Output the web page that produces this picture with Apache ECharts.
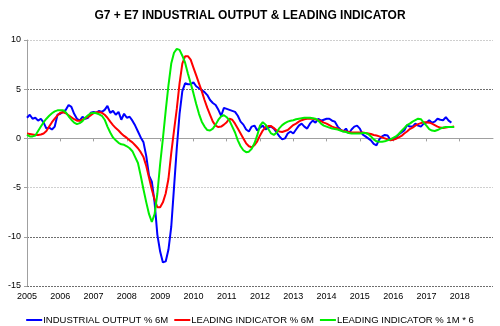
<!DOCTYPE html>
<html><head><meta charset="utf-8">
<script src="https://cdn.jsdelivr.net/npm/echarts@6/dist/echarts.min.js"></script>
<style>html,body{margin:0;padding:0;background:#fff}#c{width:500px;height:326px}</style>
</head><body><div id="c"></div>
<script>
// monthly categories 2005-01 .. 2019-01
const months = [];
for (let y = 2005; y <= 2019; y++) {
  for (let m = 1; m <= 12; m++) {
    if (y === 2019 && m > 1) break;
    months.push(y + '-' + (m < 10 ? '0' + m : m));
  }
}
const yearLabels = ['2005','2006','2007','2008','2009','2010','2011','2012','2013','2014','2015','2016','2017','2018'];
const yTicks = [-15, -10, -5, 0, 5, 10];

const industrialOutput6m = [
  2.1, 2.4, 2.0, 2.1, 1.8, 2.0, 1.6, 1.0, 1.1, 0.9, 1.2, 2.4,
  2.5, 2.7, 2.9, 3.4, 3.2, 2.5, 2.0, 1.8, 2.2, 2.0, 2.1, 2.6,
  2.7, 2.6, 2.8, 2.7, 2.9, 3.3, 2.6, 2.8, 2.4, 2.7, 1.9, 2.5,
  2.1, 2.2, 1.8, 1.3, 0.7, 0.1, -0.4, -1.8, -3.8, -4.4, -6.5, -9.8,
  -11.5, -12.6, -12.5, -11.3, -9.0, -5.0, -1.0, 2.5, 4.8, 5.6, 5.5, 5.5,
  5.7, 5.3, 5.1, 4.9, 4.7, 4.4, 3.9, 3.6, 3.4, 2.9, 2.3, 3.1,
  3.0, 2.9, 2.8, 2.7, 2.3, 1.7, 1.4, 0.9, 0.7, 1.2, 1.3, 0.8,
  1.1, 1.3, 0.9, 1.1, 1.2, 1.0, 0.6, 0.2, -0.1, 0.0, 0.5, 0.7,
  0.5, 0.9, 1.3, 1.5, 1.2, 1.0, 1.5, 1.8, 1.6, 2.0, 1.8, 1.9,
  2.0, 2.0, 1.8, 1.7, 1.2, 0.9, 0.7, 1.0, 0.5, 0.9, 1.2, 1.3,
  1.0, 0.4, 0.2, 0.0, -0.2, -0.55, -0.7, -0.1, 0.2, 0.35, 0.3, -0.15,
  -0.1, 0.1, 0.4, 0.6, 0.8, 1.35, 1.2, 1.2, 1.5, 1.3, 1.2, 1.5,
  1.6, 1.85, 1.6, 1.7, 2.0, 1.9, 1.85, 2.15, 1.8, 1.6
];
const leading6m = [
  0.5, 0.45, 0.4, 0.35, 0.35, 0.4, 0.5, 0.75, 1.2, 1.65, 2.0, 2.35,
  2.6, 2.65, 2.55, 2.35, 2.15, 1.95, 1.8, 1.8, 1.9, 2.05, 2.2, 2.35,
  2.55, 2.65, 2.65, 2.6, 2.4, 2.1, 1.7, 1.35, 1.05, 0.8, 0.5, 0.25,
  0.05, -0.2, -0.4, -0.7, -1.0, -1.4, -1.9, -2.8, -4.0, -5.2, -6.2, -7.0,
  -7.0, -6.5, -5.6, -4.1, -1.5, 0.8, 3.0, 5.6, 7.6, 8.35, 8.35, 8.0,
  7.2, 6.4, 5.6, 4.8, 3.9, 3.1, 2.4, 1.7, 1.3, 1.15, 1.2, 1.4,
  1.65, 2.0, 1.9, 1.5, 1.0, 0.5, 0.0, -0.5, -0.8, -0.9, -0.7, -0.3,
  0.3, 0.8, 1.15, 1.25, 1.25, 1.05, 0.8, 0.7, 0.65, 0.75, 0.85, 1.1,
  1.35, 1.5, 1.7, 1.85, 1.95, 2.0, 2.0, 2.0, 1.95, 1.85, 1.75, 1.6,
  1.5, 1.35, 1.2, 1.1, 1.0, 0.85, 0.75, 0.7, 0.65, 0.6, 0.6, 0.6,
  0.6, 0.6, 0.55, 0.5, 0.45, 0.35, 0.3, 0.2, 0.1, 0.0, -0.1, -0.2,
  -0.15, -0.05, 0.1, 0.25, 0.5, 0.7, 0.95, 1.1, 1.3, 1.45, 1.55, 1.65,
  1.65, 1.6, 1.5, 1.35, 1.2, 1.1, 1.05, 1.1, 1.15, 1.15, 1.2
];
const leading1mx6 = [
  0.35, 0.2, 0.2, 0.3, 0.75, 1.2, 1.65, 2.0, 2.3, 2.55, 2.75, 2.85,
  2.85, 2.85, 2.65, 2.25, 1.9, 1.6, 1.45, 1.55, 1.75, 2.1, 2.35, 2.55,
  2.6, 2.55, 2.45, 2.3, 1.9, 1.2, 0.6, 0.1, -0.2, -0.45, -0.6, -0.65,
  -0.8, -1.0, -1.3, -1.9, -2.5, -3.8, -5.2, -6.5, -7.7, -8.5, -7.7, -5.6,
  -2.6, 0.0, 2.8, 5.4, 7.6, 8.7, 9.1, 9.0, 8.4, 7.7, 6.6, 5.6,
  4.6, 3.5, 2.5, 1.7, 1.2, 0.85, 0.8, 1.0, 1.4, 1.9, 2.25, 2.35,
  2.15, 1.8, 1.2, 0.6, -0.2, -0.8, -1.2, -1.4, -1.35, -1.05, -0.5, 0.3,
  1.3, 1.65, 1.4, 0.95, 0.5, 0.35, 0.6, 1.05, 1.35, 1.55, 1.7, 1.8,
  1.85, 1.95, 2.0, 2.05, 2.1, 2.1, 2.1, 2.05, 2.0, 1.8, 1.5, 1.3,
  1.2, 1.1, 1.0, 0.95, 0.9, 0.8, 0.7, 0.65, 0.55, 0.5, 0.5, 0.5,
  0.5, 0.55, 0.55, 0.45, 0.2, -0.1, -0.3, -0.35, -0.35, -0.3, -0.2, -0.1,
  0.05, 0.2, 0.45, 0.75, 1.05, 1.35, 1.5, 1.7, 1.85, 2.0, 1.95, 1.6,
  1.3, 0.95, 0.8, 0.75, 0.85, 1.0, 1.1, 1.15, 1.15, 1.15, 1.15
];
const seriesNames = ['INDUSTRIAL OUTPUT % 6M', 'LEADING INDICATOR % 6M', 'LEADING INDICATOR % 1M * 6'];

const isYearStart = (i, v) => v.endsWith('-01') && yearLabels.indexOf(v.slice(0, 4)) >= 0;
const FONT = 'Liberation Sans, Arial, sans-serif';

const chart = echarts.init(document.getElementById('c'), null, {renderer: 'canvas'});
chart.setOption({
  animation: false,
  backgroundColor: '#fff',
  title: {
    text: 'G7 + E7 INDUSTRIAL OUTPUT & LEADING INDICATOR',
    left: 'center', top: 5,
    textStyle: {fontFamily: FONT, fontSize: 12, fontWeight: 'bold', color: '#000'}
  },
  grid: {left: 27, right: 7, top: 40, bottom: 40, containLabel: false},
  legend: {
    top: 310, left: 'center',
    itemWidth: 16, itemHeight: 2, itemGap: 6, icon: 'rect',
    textStyle: {fontFamily: FONT, fontSize: 9.5, color: '#000', padding: [0, 0, 0, -4]},
    data: seriesNames
  },
  xAxis: [{
    type: 'category', data: months, boundaryGap: false, position: 'bottom',
    axisLine: {show: false, onZero: false},
    axisTick: {show: false},
    splitLine: {show: false},
    axisLabel: {
      interval: isYearStart, formatter: v => v.slice(0, 4),
      fontFamily: FONT, fontSize: 9, color: '#000', margin: 6
    }
  }, {
    type: 'category', data: months, boundaryGap: false, position: 'bottom',
    axisLine: {show: true, onZero: true, lineStyle: {color: '#a0a0a0', width: 1}},
    axisTick: {show: true, interval: isYearStart, length: 3, lineStyle: {color: '#a0a0a0'}},
    axisLabel: {show: false},
    splitLine: {show: false}
  }],
  yAxis: {
    type: 'value', min: yTicks[0], max: yTicks[yTicks.length - 1], interval: 5,
    axisLine: {show: true, lineStyle: {color: '#a0a0a0'}},
    axisTick: {show: true, length: 3, lineStyle: {color: '#a0a0a0'}},
    axisLabel: {fontFamily: FONT, fontSize: 9, color: '#000', margin: 6},
    splitLine: {show: true, lineStyle: {
      color: ['#6e6e6e', '#6e6e6e', '#cfcfcf', '#a0a0a0', '#6e6e6e', '#cfcfcf'],
      type: [2, 1], width: 1
    }}
  },
  series: [
    {name: seriesNames[0], type: 'line', data: industrialOutput6m, showSymbol: false, symbol: 'none',
     lineStyle: {color: '#0000ff', width: 2}, itemStyle: {color: '#0000ff'}},
    {name: seriesNames[1], type: 'line', data: leading6m, showSymbol: false, symbol: 'none',
     lineStyle: {color: '#ff0000', width: 2}, itemStyle: {color: '#ff0000'}},
    {name: seriesNames[2], type: 'line', data: leading1mx6, showSymbol: false, symbol: 'none',
     lineStyle: {color: '#00ee00', width: 2}, itemStyle: {color: '#00ee00'}}
  ]
});
</script>
</body></html>
